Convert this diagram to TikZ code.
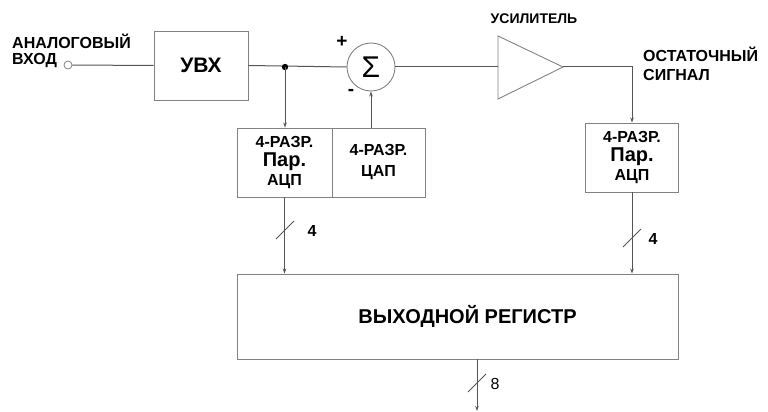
\documentclass[tikz,border=0pt]{standalone}
\usepackage{fontspec}
\setmainfont{Liberation Sans}
\usetikzlibrary{arrows.meta,calc,positioning}
\definecolor{adcWire}{RGB}{85,85,85}
\definecolor{adcFrame}{RGB}{130,130,130}
\newcommand{\fsz}[1]{\fontsize{#1}{#1}\selectfont}
\newcommand{\busslash}[4]{%
  \draw[wire] ($(#1)+(-9,9)$) -- ($(#1)+(9,-9)$);
  \node[lbl] (#4) at ($(#1)+(#3,1)$) {#2};
}
\begin{document}
\begin{tikzpicture}[x=1pt,y=-1pt,
    wire/.style={draw=adcWire,line width=1pt},
    arr/.style={wire,-{Stealth[length=5pt,width=3.5pt]}},
    blk/.style={draw=adcFrame,line width=0.9pt,inner sep=0pt,
      font=\bfseries\fontsize{16}{19}\selectfont,align=center},
    lbl/.style={inner sep=0pt,font=\bfseries\fsz{16}}]
  \useasboundingbox (0,0) rectangle (768,412);
  % input
  \node[lbl,anchor=west] (txtA) at (12,41) {АНАЛОГОВЫЙ};
  \node[lbl,anchor=west] (txtB) at (12,61) {ВХОД};
  \node[circle,draw=adcFrame,line width=0.8pt,minimum size=8pt,inner sep=0pt] (in) at (68,65) {};
  % blocks
  \node[blk,minimum width=94,minimum height=69,font=\bfseries\fsz{21}] (uvx) at (201,65.5) {УВХ};
  \node[circle,draw=adcFrame,line width=0.9pt,minimum size=48pt,inner sep=0pt,font=\fsz{30}] (sum) at (371,67) {Σ};
  \node[lbl,font=\bfseries\fsz{19}] (plus) at (342,42) {+};
  \node[lbl,font=\bfseries\fsz{19}] (minus) at (351,92) {-};
  \coordinate (ampin) at (498,67);
  \coordinate (ampout) at (563,67);
  \draw[draw=adcFrame,line width=0.9pt] (498,36) -- (ampout) -- (498,99) -- cycle;
  \node[lbl,font=\bfseries\fsz{14}] (amptxt) at (534,19) {УСИЛИТЕЛЬ};
  \node[lbl,anchor=west] (restA) at (643,54) {ОСТАТОЧНЫЙ};
  \node[lbl,anchor=west] (restB) at (643,75) {СИГНАЛ};
  \node[blk,minimum width=95,minimum height=69] (adc1) at (284.5,162.5)
    {4-РАЗР.\\{\fontsize{20}{20}\selectfont Пар.}\\АЦП};
  \node[blk,minimum width=93,minimum height=69] (dac) at (378.5,162.5)
    {4-РАЗР.\\[2pt]ЦАП};
  \node[blk,minimum width=93,minimum height=69] (adc2) at (632,157.5)
    {4-РАЗР.\\{\fontsize{20}{20}\selectfont Пар.}\\АЦП};
  \node[blk,minimum width=441,minimum height=85,font=\bfseries\fsz{20}] (reg) at (457.5,316.5)
    {\hspace*{20pt}ВЫХОДНОЙ РЕГИСТР};
  % connectors
  \coordinate (j) at (285,67);
  \coordinate (c1) at (632,67);
  \coordinate (out) at (477,411);
  \draw[wire] (in.east) -- (uvx.west);
  \draw[wire] (uvx.east) -- (sum.west);
  \fill[black] (j) circle (3.2pt);
  \draw[arr] (j) -- (j |- adc1.north);
  \draw[arr] (sum.south |- dac.north) -- (sum.south);
  \draw[wire] (sum.east) -- (ampin);
  \draw[arr] (ampout) -- (c1) -- (adc2.north);
  \draw[arr] (adc1.south) -- (adc1.south |- reg.north);
  \draw[arr] (adc2.south) -- (adc2.south |- reg.north);
  \draw[arr] (out |- reg.south) -- (out);
  \busslash{285,230}{4}{27}{n4a}
  \busslash{632,238}{4}{21}{n4b}
  \busslash{477,383}{\mdseries 8}{18}{n8}
\end{tikzpicture}
\end{document}
